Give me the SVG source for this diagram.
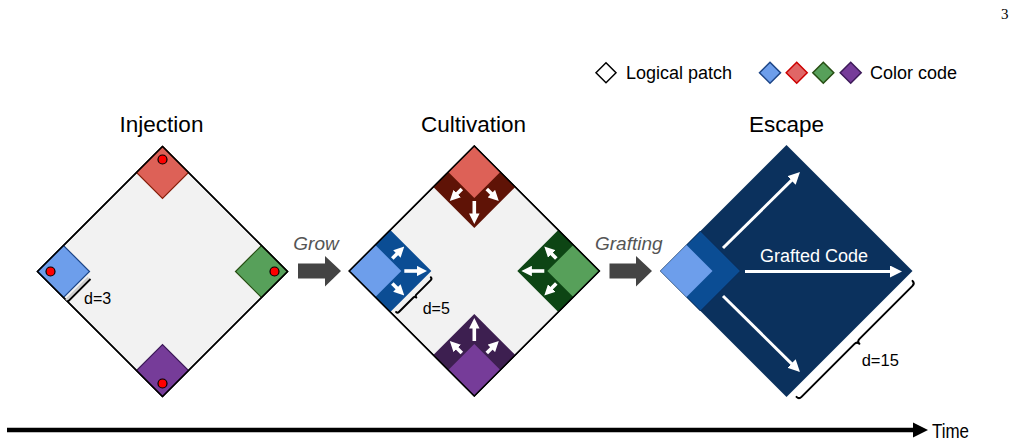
<svg xmlns="http://www.w3.org/2000/svg" width="1016" height="445" viewBox="0 0 1016 445">
<style>
text{font-family:"Liberation Sans",Arial,sans-serif;fill:#000}
.title{font-size:22.5px;text-anchor:middle}
.leg{font-size:18px}
.dlab{font-size:16px}
.op{font-size:19px;font-style:italic;fill:#555}
.lp{fill:#f2f2f2;stroke:#000;stroke-width:1.5}
.outline{fill:none;stroke:#000;stroke-width:1.5}
.wa{stroke:#fff;stroke-width:3.6;marker-end:url(#wh)}
.ea{stroke:#fff;stroke-width:3;marker-end:url(#eh)}
.dot{fill:#f00;stroke:#000;stroke-width:1.2}
.brace{fill:none;stroke:#000;stroke-width:2;stroke-linecap:round;stroke-linejoin:round}
.bL{fill:#6d9eeb;stroke:#1c4587;stroke-width:1.2}
.rL{fill:#dd6157;stroke:#85200c;stroke-width:1.2}
.gL{fill:#57a05a;stroke:#274e13;stroke-width:1.2}
.pL{fill:#763c99;stroke:#3d1a59;stroke-width:1.2}
.grey{fill:#444}
</style>
<defs>
<marker id="wh" viewBox="0 0 10 10" refX="3" refY="5" markerWidth="10.5" markerHeight="10.5" markerUnits="userSpaceOnUse" orient="auto"><path d="M0,0 L10,5 L0,10 z" fill="#fff"/></marker>
<marker id="eh" viewBox="0 0 10 10" refX="3" refY="5" markerWidth="12" markerHeight="12" markerUnits="userSpaceOnUse" orient="auto"><path d="M0,0 L10,5 L0,10 z" fill="#fff"/></marker>
<g id="pa">
<line class="wa" x1="0" y1="55" x2="0" y2="70.6"/>
<line class="wa" x1="12.5" y1="43" x2="19.3" y2="49.8"/>
<line class="wa" x1="-12.5" y1="43" x2="-19.3" y2="49.8"/>
</g>
</defs>

<text x="1001" y="18.5" style="font-family:'Liberation Serif',serif;font-size:15px">3</text>

<g id="legend">
<path d="M606,62.7 L616,72.7 L606,82.7 L596,72.7 Z" fill="#fff" stroke="#000" stroke-width="1.5"/>
<text class="leg" x="626" y="78.5">Logical patch</text>
<path d="M770,62.2 L780.5,72.7 L770,83.2 L759.5,72.7 Z" fill="#6d9eeb" stroke="#1c4587" stroke-width="1.5"/>
<path d="M796.7,62.2 L807.2,72.7 L796.7,83.2 L786.2,72.7 Z" fill="#e06666" stroke="#cc0000" stroke-width="1.5"/>
<path d="M823.3,62.2 L833.8,72.7 L823.3,83.2 L812.8,72.7 Z" fill="#57a05a" stroke="#274e13" stroke-width="1.5"/>
<path d="M850.7,62.2 L861.2,72.7 L850.7,83.2 L840.2,72.7 Z" fill="#763c99" stroke="#3d1a59" stroke-width="1.5"/>
<text class="leg" x="870" y="78.5">Color code</text>
</g>

<g id="injection">
<text class="title" x="161.5" y="132">Injection</text>
<path class="lp" d="M162.5,146.5 L287.5,271.5 L162.5,396.5 L37.5,271.5 Z"/>
<g transform="translate(162.5,146.5)"><path class="rL" d="M0,0 L26,26 L0,52 L-26,26 Z"/><circle class="dot" cx="0" cy="13" r="4.5"/></g>
<g transform="translate(37.5,271.5) rotate(-90)"><path class="bL" d="M0,0 L26,26 L0,52 L-26,26 Z"/><circle class="dot" cx="0" cy="13" r="4.5"/></g>
<g transform="translate(287.5,271.5) rotate(90)"><path class="gL" d="M0,0 L26,26 L0,52 L-26,26 Z"/><circle class="dot" cx="0" cy="13" r="4.5"/></g>
<g transform="translate(162.5,396.5) rotate(180)"><path class="pL" d="M0,0 L26,26 L0,52 L-26,26 Z"/><circle class="dot" cx="0" cy="13" r="4.5"/></g>
<path class="outline" d="M162.5,146.5 L287.5,271.5 L162.5,396.5 L37.5,271.5 Z"/>
<line x1="66" y1="300" x2="88.5" y2="277.5" stroke="#ccc" stroke-width="2"/>
<line x1="68" y1="301.5" x2="90.5" y2="279" stroke="#000" stroke-width="1.8"/>
<text class="dlab" x="84" y="303.5">d=3</text>
</g>

<g id="cultivation">
<text class="title" x="473.5" y="132">Cultivation</text>
<path class="lp" d="M474.3,146 L599.3,271 L474.3,396 L349.3,271 Z"/>
<g transform="translate(474.3,146)"><path d="M0,0 L41,41 L0,82 L-41,41 Z" fill="#5f1306"/><path d="M0,0 L26,26 L0,52 L-26,26 Z" fill="#dd6157"/><use href="#pa"/></g>
<g transform="translate(349.3,271) rotate(-90)"><path d="M0,0 L41,41 L0,82 L-41,41 Z" fill="#0b4d94"/><path d="M0,0 L26,26 L0,52 L-26,26 Z" fill="#6d9eeb"/><use href="#pa"/></g>
<g transform="translate(599.3,271) rotate(90)"><path d="M0,0 L41,41 L0,82 L-41,41 Z" fill="#0d4514"/><path d="M0,0 L26,26 L0,52 L-26,26 Z" fill="#57a05a"/><use href="#pa"/></g>
<g transform="translate(474.3,396) rotate(180)"><path d="M0,0 L41,41 L0,82 L-41,41 Z" fill="#3d1f50"/><path d="M0,0 L26,26 L0,52 L-26,26 Z" fill="#763c99"/><use href="#pa"/></g>
<path class="outline" d="M474.3,146 L599.3,271 L474.3,396 L349.3,271 Z"/>
<path class="brace" d="M430.8,277.3 Q432.2,278.7 430.8,280.1 L416.3,294.6 Q414.9,296.1 416.3,297.5 Q414.9,296.1 413.4,297.5 L398.9,312 Q397.5,313.4 396.1,312"/>
<text class="dlab" x="422.7" y="313.5">d=5</text>
</g>

<g id="escape">
<text class="title" x="786.5" y="132">Escape</text>
<path d="M786.5,145 L912.5,271 L786.5,397 L660.5,271 Z" fill="#0b315d"/>
<g transform="translate(660.5,271) rotate(-90)"><path d="M0,0 L40,40 L0,80 L-40,40 Z" fill="#0b4d94" stroke="#0a2c57" stroke-width="1"/><path d="M0,0 L26,26 L0,52 L-26,26 Z" fill="#6d9eeb"/></g>
<line class="ea" x1="745" y1="271.5" x2="893.6" y2="271.5"/>
<line class="ea" x1="723" y1="248" x2="794" y2="177.9"/>
<line class="ea" x1="723" y1="296" x2="794" y2="366.1"/>
<text x="760" y="261.5" style="font-size:18px;fill:#fff">Grafted Code</text>
<path class="brace" d="M912.5,280.9 Q915,283.4 912.5,285.9 L859.5,338.9 Q857,341.4 859.4,343.8 Q857,341.4 854.5,343.9 L801.5,396.9 Q799,399.4 796.5,396.9"/>
<text x="861.7" y="365.5" style="font-size:16.5px">d=15</text>
</g>

<g id="connectors">
<path class="grey" d="M298,263.5 L325,263.5 L325,256 L341,271 L325,286.5 L325,278.5 L298,278.5 Z"/>
<text class="op" x="293.3" y="250">Grow</text>
<path class="grey" d="M609.5,263.5 L636,263.5 L636,256 L652,271 L636,286.5 L636,278.5 L609.5,278.5 Z"/>
<text class="op" x="595" y="250">Grafting</text>
<line x1="7" y1="430" x2="915" y2="430" stroke="#000" stroke-width="4.5"/>
<path d="M913,422.5 L928,430 L913,437.5 Z" fill="#000"/>
<text x="932" y="438" textLength="37" lengthAdjust="spacingAndGlyphs" style="font-family:'Liberation Sans Narrow','Liberation Sans',sans-serif;font-size:21px">Time</text>
</g>
</svg>
